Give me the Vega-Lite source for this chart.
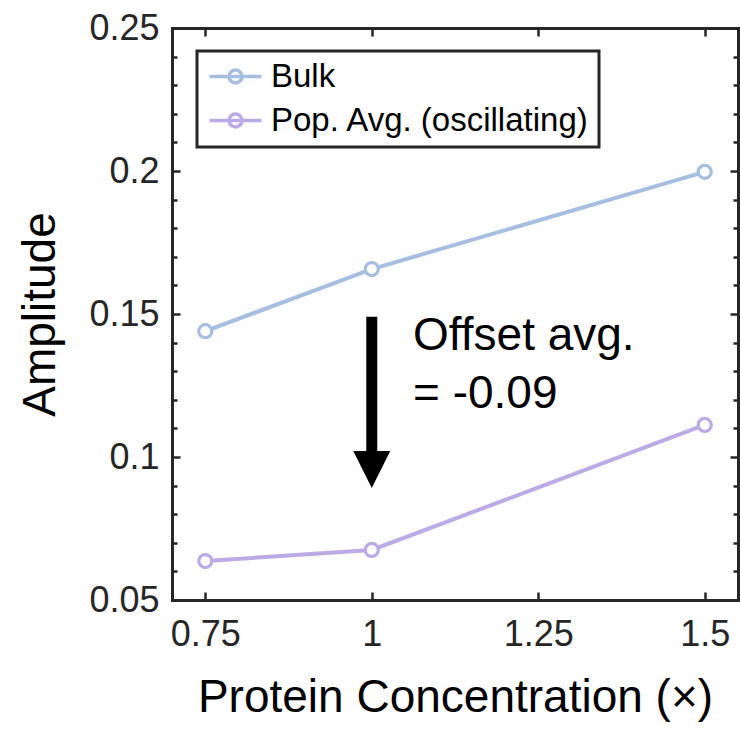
{
  "$schema": "https://vega.github.io/schema/vega-lite/v6.json",
  "width": 566,
  "height": 572,
  "autosize": "none",
  "padding": {"left": 172, "top": 28, "right": 2, "bottom": 133},
  "config": {
    "view": {"stroke": null},
    "font": "Liberation Sans",
    "axis": {
      "domainColor": "#262626", "domainWidth": 3, "domainCap": "square",
      "tickColor": "#262626", "tickWidth": 2.5,
      "labelColor": "#262626", "labelFontSize": 36, "labelFont": "Liberation Sans",
      "titleFontSize": 46, "titleFontWeight": "normal", "titleColor": "#000000", "titleFont": "Liberation Sans",
      "grid": false
    },
    "legend": {
      "orient": "none", "legendX": 25, "legendY": 23,
      "strokeColor": "#262626", "strokeWidth": 3, "fillColor": "white",
      "padding": 9, "rowPadding": 10,
      "labelFontSize": 33, "labelFont": "Liberation Sans", "labelColor": "#000000", "labelOffset": 32, "labelLimit": 600,
      "symbolType": "M -1 0 L 3 0 M 0.5 0 A 0.5 0.5 0 1 1 1.5 0 A 0.5 0.5 0 1 1 0.5 0",
      "symbolSize": 676, "symbolStrokeWidth": 3.5, "symbolFillColor": "transparent",
      "title": null
    }
  },
  "resolve": {"axis": {"x": "independent", "y": "independent"}},
  "layer": [
    {
      "data": {"values": [
        {"conc": 0.75, "amp": 0.144, "series": "Bulk"},
        {"conc": 1.0, "amp": 0.1657, "series": "Bulk"},
        {"conc": 1.5, "amp": 0.1997, "series": "Bulk"},
        {"conc": 0.75, "amp": 0.0636, "series": "Pop. Avg. (oscillating)"},
        {"conc": 1.0, "amp": 0.0675, "series": "Pop. Avg. (oscillating)"},
        {"conc": 1.5, "amp": 0.1112, "series": "Pop. Avg. (oscillating)"}
      ]},
      "mark": {"type": "line", "strokeWidth": 4},
      "encoding": {
        "x": {"field": "conc", "type": "quantitative", "scale": {"domain": [0.7, 1.55], "nice": false, "zero": false},
              "axis": {"orient": "bottom", "values": [0.75, 1, 1.25, 1.5], "format": ".3~g", "tickSize": -8, "labelPadding": 25, "title": "Protein Concentration (×)", "titlePadding": 23}},
        "y": {"field": "amp", "type": "quantitative", "scale": {"domain": [0.05, 0.25], "nice": false, "zero": false},
              "axis": {"orient": "left", "values": [0.05, 0.1, 0.15, 0.2, 0.25], "format": ".3~g", "tickSize": -8, "labelPadding": 21, "title": "Amplitude", "titlePadding": 24}},
        "color": {"field": "series", "type": "nominal",
                  "scale": {"domain": ["Bulk", "Pop. Avg. (oscillating)"], "range": ["#a6bfe0", "#bcaae6"]}}
      }
    },
    {
      "data": {"values": [
        {"conc": 0.75, "amp": 0.144, "series": "Bulk"},
        {"conc": 1.0, "amp": 0.1657, "series": "Bulk"},
        {"conc": 1.5, "amp": 0.1997, "series": "Bulk"},
        {"conc": 0.75, "amp": 0.0636, "series": "Pop. Avg. (oscillating)"},
        {"conc": 1.0, "amp": 0.0675, "series": "Pop. Avg. (oscillating)"},
        {"conc": 1.5, "amp": 0.1112, "series": "Pop. Avg. (oscillating)"}
      ]},
      "mark": {"type": "point", "shape": "circle", "size": 170, "strokeWidth": 3.2, "filled": false, "fill": "white", "opacity": 1},
      "encoding": {
        "x": {"field": "conc", "type": "quantitative", "scale": {"domain": [0.7, 1.55], "nice": false, "zero": false},
              "axis": {"orient": "top", "values": [0.75, 1, 1.25, 1.5], "labels": false, "tickSize": -8, "title": null}},
        "y": {"field": "amp", "type": "quantitative", "scale": {"domain": [0.05, 0.25], "nice": false, "zero": false},
              "axis": {"orient": "right", "values": [0.05, 0.1, 0.15, 0.2, 0.25], "labels": false, "tickSize": -8, "title": null}},
        "color": {"field": "series", "type": "nominal",
                  "scale": {"domain": ["Bulk", "Pop. Avg. (oscillating)"], "range": ["#a6bfe0", "#bcaae6"]}}
      }
    },
    {
      "data": {"values": [{"ax": 1.0, "ytop": 0.149, "ybot": 0.1}]},
      "mark": {"type": "rule", "strokeWidth": 11, "color": "#000000", "strokeCap": "butt"},
      "encoding": {
        "x": {"field": "ax", "type": "quantitative", "scale": {"domain": [0.7, 1.55], "nice": false, "zero": false}, "axis": null},
        "y": {"field": "ytop", "type": "quantitative", "scale": {"domain": [0.05, 0.25], "nice": false, "zero": false},
              "axis": {"orient": "left", "values": [0.06, 0.07, 0.08, 0.09, 0.11, 0.12, 0.13, 0.14, 0.16, 0.17, 0.18, 0.19, 0.21, 0.22, 0.23, 0.24], "labels": false, "domain": false, "tickSize": -5, "title": null}},
        "y2": {"field": "ybot"}
      }
    },
    {
      "data": {"values": [{"ax": 1.0, "ym": 0.0956}]},
      "mark": {"type": "point", "shape": "M -1 -1 L 1 -1 L 0 1 Z", "size": 1369, "filled": true, "color": "#000000", "opacity": 1, "strokeWidth": 0},
      "encoding": {
        "x": {"field": "ax", "type": "quantitative", "scale": {"domain": [0.7, 1.55], "nice": false, "zero": false}, "axis": null},
        "y": {"field": "ym", "type": "quantitative", "scale": {"domain": [0.05, 0.25], "nice": false, "zero": false},
              "axis": {"orient": "right", "values": [0.06, 0.07, 0.08, 0.09, 0.11, 0.12, 0.13, 0.14, 0.16, 0.17, 0.18, 0.19, 0.21, 0.22, 0.23, 0.24], "labels": false, "domain": false, "tickSize": -5, "title": null}}
      }
    },
    {
      "data": {"values": [
        {"tx": 1.062, "ty": 0.1374, "label": "Offset avg."},
        {"tx": 1.062, "ty": 0.1171, "label": "= -0.09"}
      ]},
      "mark": {"type": "text", "align": "left", "baseline": "alphabetic", "fontSize": 46, "font": "Liberation Sans", "color": "#000000"},
      "encoding": {
        "x": {"field": "tx", "type": "quantitative", "scale": {"domain": [0.7, 1.55], "nice": false, "zero": false}, "axis": null},
        "y": {"field": "ty", "type": "quantitative", "scale": {"domain": [0.05, 0.25], "nice": false, "zero": false}, "axis": null},
        "text": {"field": "label"}
      }
    }
  ]
}
